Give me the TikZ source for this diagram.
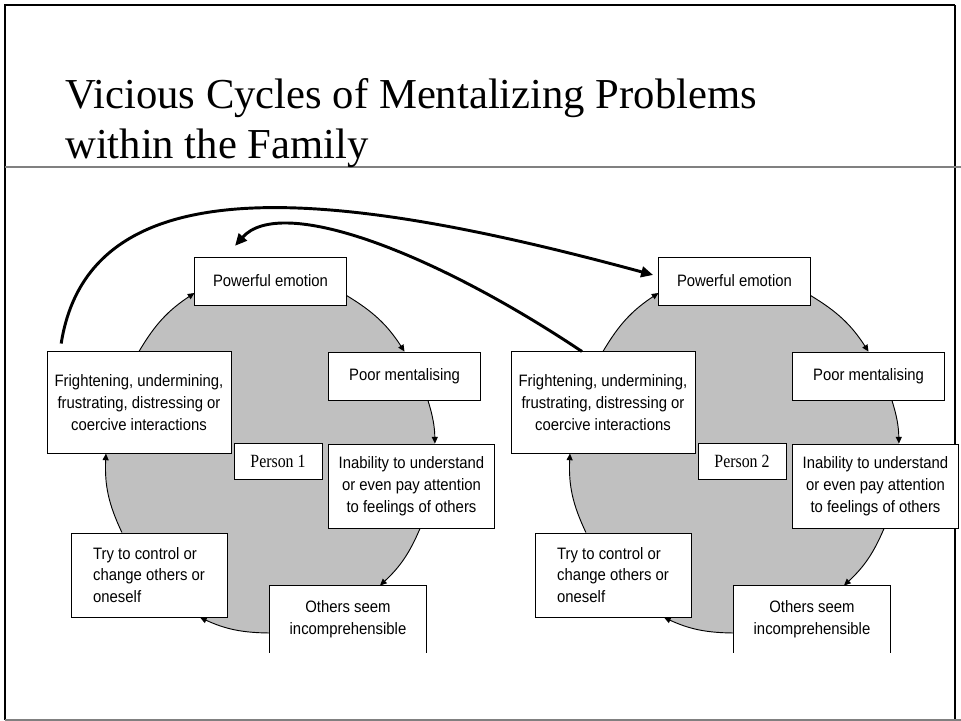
\documentclass[tikz,border=0pt]{standalone}
\usepackage{fontspec}
\setmainfont{Liberation Serif}
\newfontfamily\boxfont[FakeStretch=0.9]{Liberation Sans}
\newfontfamily\personfont[FakeStretch=0.85]{Liberation Serif}
\usetikzlibrary{arrows.meta,backgrounds}
\definecolor{cyclegray}{RGB}{192,192,192}
\definecolor{rulegray}{RGB}{128,128,128}

\begin{document}
\begin{tikzpicture}[x=0.75pt,y=-0.75pt,
	stage/.style={draw,fill=white,line width=0.75pt,font=\boxfont\fontsize{12.4}{16.3}\selectfont,align=center,inner sep=2pt},
	person/.style={draw,fill=white,line width=0.75pt,font=\personfont\fontsize{14}{16}\selectfont,minimum width=66pt,minimum height=26.3pt},
	cyc/.style={-{Triangle[length=5pt,width=4.5pt]},line width=0.7pt},
	link/.style={-{Triangle[length=9pt,width=8pt]},line width=2.2pt}]
	\useasboundingbox (0,0) rectangle (961,721);
	% frame and title
	\draw[line width=1.5pt] (5,720) -- (5,5) -- (955,5);
	\draw[line width=0.8pt] (955,5) -- (955,720);
	\draw[rulegray,line width=1pt] (5,720) -- (961,720);
	\draw[rulegray,line width=1.5pt] (5,167) -- (961,167);
	\node[anchor=base west,font=\fontsize{32}{37.5}\selectfont,align=left,inner sep=0pt] (title) at (65,158) {Vicious Cycles of Mentalizing Problems\\within the Family};
	% one cycle per person
	\foreach \i/\dx in {1/0,2/464}{
		\begin{scope}[shift={(\dx,0)}]
			\node[stage,minimum width=113.3pt,minimum height=36pt] (pe\i) at (270.5,281) {Powerful emotion};
			\node[stage,minimum width=113.3pt,minimum height=36pt] (pm\i) at (404.5,376) {Poor mentalising};
			\node[stage,minimum width=123.8pt,minimum height=63pt] (in\i) at (411.5,486) {Inability to understand\\or even pay attention\\to feelings of others};
			\node[stage,draw=none,minimum width=117pt,minimum height=49.5pt] (os\i) at (348,619) {Others seem\\incomprehensible};
			\draw[line width=0.75pt] (os\i.south west) |- (os\i.north east) -- (os\i.south east);
			\node[stage,align=left,minimum width=117pt,minimum height=63pt] (tc\i) at (149,575) {Try to control or\\change others or\\oneself};
			\node[stage,minimum width=138pt,minimum height=75.8pt] (fr\i) at (139,402.5) {Frightening, undermining,\\frustrating, distressing or\\coercive interactions};
			\node[person] (p\i) at (278,461.5) {Person \i};
		\end{scope}
		\begin{pgfonlayer}{background}
			\fill[cyclegray] ([yshift=7.5pt]pe\i.south east) to[bend left=13] (pm\i.north) -- ([xshift=17.6pt]pm\i.south)
				to[bend left=8] ([xshift=17.6pt]in\i.north) -- ([xshift=6.4pt]in\i.south)
				to[bend left=12] ([xshift=24pt]os\i.north) -- ([yshift=-10.5pt]os\i.west)
				to[bend left=12] ([xshift=38.3pt]tc\i.south) -- ([xshift=-20.3pt]tc\i.north)
				to[bend left=14] ([xshift=-24.8pt]fr\i.south) -- (fr\i.north)
				to[bend left=13] ([yshift=-9pt]pe\i.west) -- cycle;
		\end{pgfonlayer}
		\draw[cyc] ([yshift=7.5pt]pe\i.south east) to[bend left=13] (pm\i.north);
		\draw[cyc] ([xshift=17.6pt]pm\i.south) to[bend left=8] ([xshift=17.6pt]in\i.north);
		\draw[cyc] ([xshift=6.4pt]in\i.south) to[bend left=12] ([xshift=24pt]os\i.north);
		\draw[cyc] ([yshift=-10.5pt]os\i.west) to[bend left=12] ([xshift=38.3pt]tc\i.south);
		\draw[cyc] ([xshift=-20.3pt]tc\i.north) to[bend left=14] ([xshift=-24.8pt]fr\i.south);
		\draw[cyc] (fr\i.north) to[bend left=13] ([yshift=-9pt]pe\i.west);
	}
	% between the two persons
	\draw[link,shorten <=6pt] ([xshift=-59.3pt]fr1.north) .. controls (90,160) and (340,190) .. ([xshift=-4pt,yshift=4.5pt]pe2.west);
	\draw[link] ([xshift=-15.8pt]fr2.north) .. controls (430,250) and (280,195) .. ([xshift=-26.6pt,yshift=8pt]pe1.north);
\end{tikzpicture}
\end{document}
